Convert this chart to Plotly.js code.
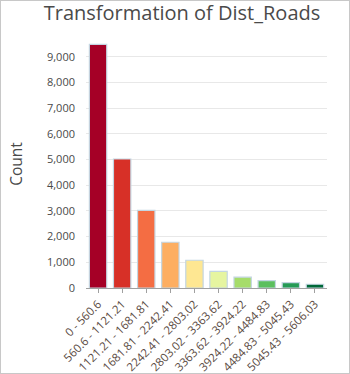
<!DOCTYPE html>
<html>
<head>
<meta charset="utf-8">
<script src="https://cdn.plot.ly/plotly-3.0.1.min.js"></script>
<style>
html,body{margin:0;padding:0;background:#fff;}
#wrap{width:348px;height:372px;border:1px solid #c8c8c8;position:relative;overflow:hidden;}
#chart{position:absolute;left:-1px;top:-1px;width:350px;height:374px;}
</style>
</head>
<body>
<div id="wrap"><div id="chart"></div></div>
<script>
const categories = ["0 - 560.6","560.6 - 1121.21","1121.21 - 1681.81","1681.81 - 2242.41","2242.41 - 2803.02","2803.02 - 3363.62","3363.62 - 3924.22","3924.22 - 4484.83","4484.83 - 5045.43","5045.43 - 5606.03"];
const counts = [9480, 5020, 3020, 1780, 1080, 650, 420, 290, 210, 145];
const colors = ["#a50026","#d73027","#f46d43","#fdae61","#fee792","#e6f5a0","#a6dc6a","#5cbf5e","#259a55","#006837"];

const trace = {
  type: 'bar',
  x: categories,
  y: counts,
  marker: {color: colors, line: {color: '#c4d6e2', width: 1.2}},
  hoverinfo: 'x+y'
};

const layout = {
  width: 350, height: 374,
  margin: {l: 86, r: 23, t: 40, b: 86},
  paper_bgcolor: '#fff', plot_bgcolor: '#fff',
  bargap: 0.28,
  font: {family: 'Open Sans, Noto Sans, sans-serif', color: '#4a4a4a'},
  title: {text: 'Transformation of Dist_Roads', font: {size: 20, color: '#4a4a4a'}, x: 0.52, xanchor: 'center', y: 0.985, yanchor: 'top'},
  xaxis: {
    type: 'category',
    tickangle: -45,
    tickfont: {size: 11.5, color: '#5a4a42'},
    showgrid: false,
    showline: true, linecolor: '#a0a0a0', linewidth: 1,
    ticks: 'outside', ticklen: 4, tickcolor: '#a0a0a0',
    automargin: false
  },
  yaxis: {
    range: [0, 9650],
    dtick: 1000,
    tickformat: ',d',
    tickfont: {size: 11, color: '#4a4a4a'},
    gridcolor: '#e8e8e8',
    zeroline: false,
    showline: false,
    ticks: '',
    ticklabelstandoff: 10,
    title: {text: 'Count', font: {size: 15.5, color: '#4a4a4a'}, standoff: 20},
    automargin: false
  },
  showlegend: false
};

Plotly.newPlot('chart', [trace], layout, {displayModeBar: false, staticPlot: true});
</script>
</body>
</html>
